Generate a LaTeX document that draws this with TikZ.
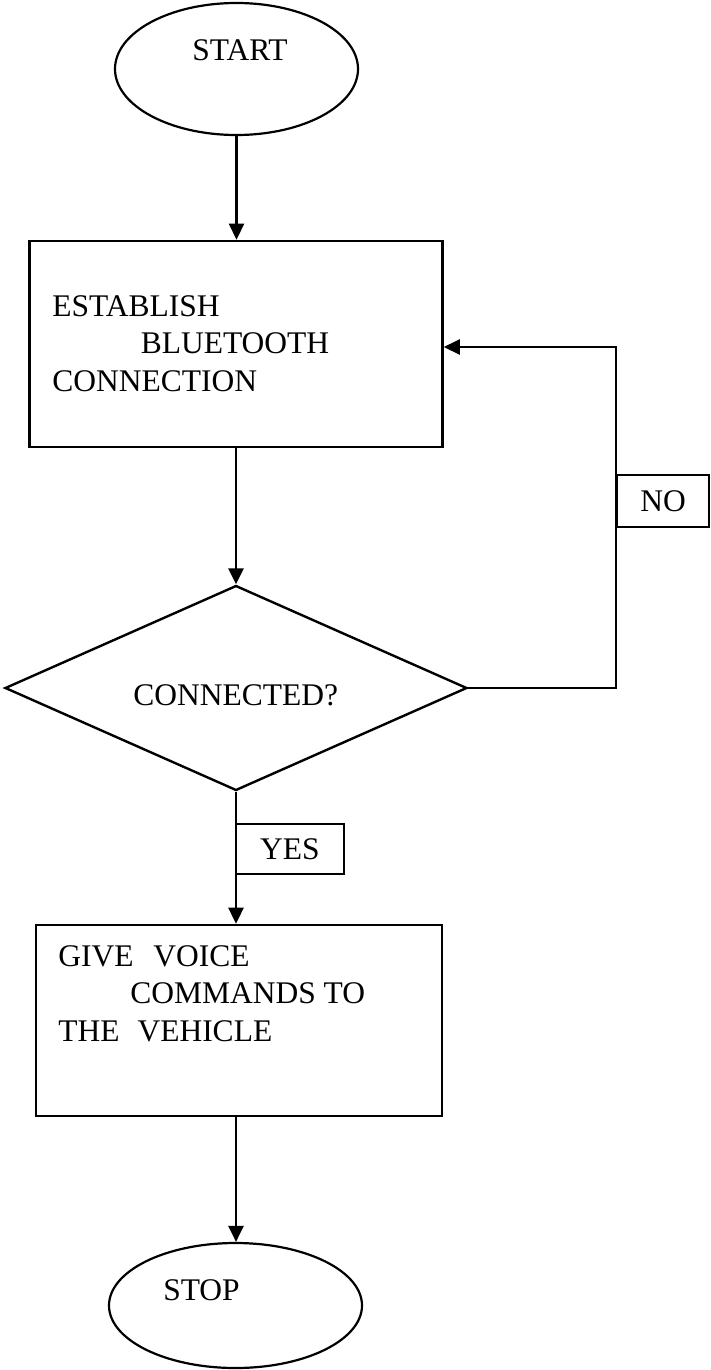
\documentclass[tikz,border=0pt]{standalone}
\usepackage{fontspec}
\setmainfont{Liberation Serif}
\usetikzlibrary{shapes.geometric,arrows.meta}
\tikzstyle{term}=[shape=ellipse,
                  draw=black,
                  line width=2.2pt,
                  inner sep=0pt]
\tikzstyle{proc}=[shape=rectangle,
                  draw=black,
                  line width=2.6pt,
                  inner sep=0pt]
\tikzstyle{dec}=[shape=diamond,
                 draw=black,
                 line width=2.4pt,
                 inner sep=0pt]
\tikzstyle{tag}=[shape=rectangle,
                 draw=black,
                 line width=2.4pt,
                 inner sep=0pt]
\tikzstyle{txt}=[anchor=base west,
                 inner sep=0pt,
                 align=left]

\begin{document}
\begin{tikzpicture}[>={Triangle[length=16pt,width=15pt]},x=1pt,y=-1pt,line width=2.6pt,
                    font=\fontsize{31.5}{37.5}\selectfont]
\useasboundingbox (0,0) rectangle (710,1370);

% start and stop
\node[term, minimum width=243pt, minimum height=132pt] (start) at (236.5,69) {};
\node[term, minimum width=253pt, minimum height=125pt] (stop) at (235.5,1305.5) {};

% process boxes
\node[proc, minimum width=413pt, minimum height=206pt] (b1) at (236,344) {};
\node[proc, minimum width=406pt, minimum height=191pt] (b2) at (239,1020.5) {};

% decision
\node[dec, minimum width=462pt, minimum height=205pt] (d1) at (236,688) {};

% answer tags
\node[tag, minimum width=92pt, minimum height=52pt] (no) at (663,501) {NO};
\node[tag, minimum width=108pt, minimum height=50pt] (yes) at (290,849) {YES};

% texts (base = last line)
\node[txt] (t0) at (191,61) {START};
\node[txt] (t1) at (51,391) {ESTABLISH\\\hspace*{88.5pt}BLUETOOTH\\CONNECTION};
\node[txt] (t2) at (132,705) {CONNECTED?};
\node[txt] (t3) at (57,1041) {GIVE\hspace{20pt}VOICE\\\hspace*{72pt}COMMANDS TO\\THE\hspace{18pt}VEHICLE};
\node[txt] (t4) at (162,1300) {STOP};

% paths
\coordinate (c1) at (616,688);
\coordinate (c2) at (616,347);
\draw[->] (start.south) -- (start.south |- b1.north);
\draw[->] (b1.south) -- (d1.north);
\draw[->] (d1.south) -- (d1.south |- b2.north);
\draw[->] (b2.south -| d1.south) -- (stop.north -| d1.south);
\draw[->] (d1.east) -- (c1) -- (c2) -- (c2 -| b1.east);

\end{tikzpicture}
\end{document}
